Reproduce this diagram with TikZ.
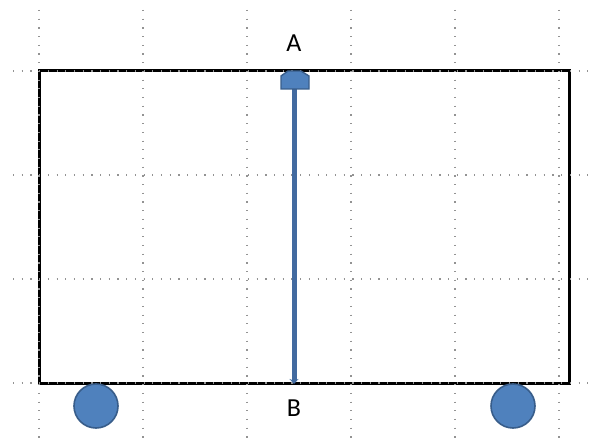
\documentclass[tikz,border=0pt]{standalone}
\usepackage{fontspec}
\setmainfont{Carlito}
\usepackage{tikz}
\usetikzlibrary{arrows.meta,positioning,calc}
\tikzset{
  gridln/.style={line width=1.3pt, gray!85, dash pattern=on 1.2pt off 7.5pt},
  frameln/.style={line width=3pt, black},
  rodln/.style={-{Stealth[length=5pt,width=9pt]}, line width=5pt, rodcolor},
  wheel/.style={circle, minimum size=44pt, inner sep=0pt, fill=partfill, draw=partedge, line width=1.6pt},
  lbl/.style={font=\fontsize{26}{30}\selectfont, inner sep=0pt},
}
\definecolor{partfill}{RGB}{79,129,189}
\definecolor{partedge}{RGB}{56,93,138}
\definecolor{rodcolor}{RGB}{66,106,160}

\begin{document}
\begin{tikzpicture}[x=1pt, y=-1pt]
    \useasboundingbox (0,0) rectangle (595,444);
    % frame
    \draw[frameln] (39,71) rectangle (569,383);
    % dotted grid
    \foreach \gx in {39,143,247,351,455,559}
      \draw[gridln] (\gx,10) -- (\gx,444);
    \foreach \gy in {71,175,279,383}
      \draw[gridln] (13,\gy) -- (595,\gy);
    % rod with cap
    \coordinate (captop) at (294,71);
    \coordinate (rodend) at (294,384);
    \draw[rodln] ($(captop)+(0,12)$) -- (rodend);
    \filldraw[fill=partfill, draw=partedge, line width=1.4pt]
      (281,89) -- (281,76) -- (288,71) -- (301,71) -- (309,76) -- (309,89) -- cycle;
    % wheels
    \node[wheel] (wheelL) at (96,406) {};
    \node[wheel] (wheelR) at (513,406) {};
    % labels
    \node[lbl, above=19pt of captop] (lblA) {A};
    \node[lbl, below=16pt of rodend] (lblB) {B};
  \end{tikzpicture}
\end{document}
